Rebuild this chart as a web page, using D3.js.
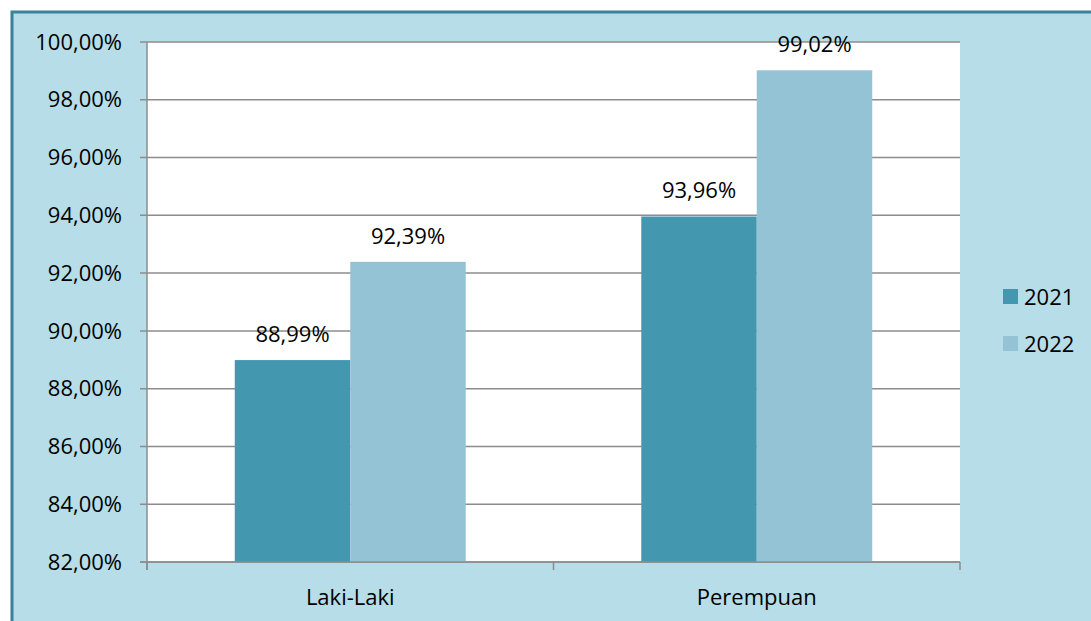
<!DOCTYPE html>
<html>
<head>
<meta charset="utf-8">
<script src="https://cdn.jsdelivr.net/npm/d3@7"></script>
<style>
  body { margin: 0; background: #fff; }
  svg text { font-family: "Open Sans", "Noto Sans", sans-serif; fill: #000; }
</style>
</head>
<body>
<svg id="chart" width="1091" height="621"></svg>
<script>
const categories = ['Laki-Laki', 'Perempuan'];
const years = ['2021', '2022'];
const values2021 = [88.99, 93.96];
const values2022 = [92.39, 99.02];
const yTicks = [82, 84, 86, 88, 90, 92, 94, 96, 98, 100];
const colors = ['#4398b0', '#93c3d4'];

const svg = d3.select('#chart');
const fmt = v => v.toFixed(2).replace('.', ',') + '%';
const fs = 22;

// background panel with border on top/left
svg.append('rect')
    .attr('x', 12).attr('y', 12)
    .attr('width', 1091).attr('height', 621)
    .attr('fill', '#b7dde8')
    .attr('stroke', '#3b8297')
    .attr('stroke-width', 3);

const plotLeft = 147, plotRight = 960, plotTop = 42, plotBottom = 562;

var x0 = d3.scaleBand().domain(categories).range([plotLeft, plotRight]);
var x1 = d3.scaleBand().domain(years).range([0, x0.bandwidth()]).paddingOuter(0.76);
var y = d3.scaleLinear().domain([82, 100]).range([plotBottom, plotTop]);

svg.append('rect')
    .attr('x', plotLeft).attr('y', plotTop)
    .attr('width', plotRight - plotLeft).attr('height', plotBottom - plotTop)
    .attr('fill', '#fff');

// gridlines
svg.append('g').selectAll('line')
    .data(yTicks)
    .enter().append('line')
    .attr('x1', plotLeft - 7).attr('x2', plotRight)
    .attr('y1', d => y(d)).attr('y2', d => y(d))
    .attr('stroke', '#8c8c8c').attr('stroke-width', 1.5);

// y axis line
svg.append('line')
    .attr('x1', plotLeft).attr('x2', plotLeft)
    .attr('y1', plotTop).attr('y2', plotBottom + 8)
    .attr('stroke', '#8c8c8c').attr('stroke-width', 1.5);

// x ticks
svg.append('g').selectAll('line')
    .data([plotLeft, x0(categories[1]), plotRight])
    .enter().append('line')
    .attr('x1', d => d).attr('x2', d => d)
    .attr('y1', plotBottom).attr('y2', plotBottom + 8)
    .attr('stroke', '#8c8c8c').attr('stroke-width', 1.5);

// y labels
svg.append('g').selectAll('text')
    .data(yTicks)
    .enter().append('text')
    .attr('x', 122).attr('y', d => y(d))
    .attr('dy', '0.35em')
    .attr('text-anchor', 'end')
    .attr('font-size', fs)
    .text(d => d.toFixed(2).replace('.', ',') + '%');

const series = [values2021, values2022];
categories.forEach((c, i) => {
    years.forEach((yr, j) => {
        var v = series[j][i];
        var bx = x0(c) + x1(yr);
        svg.append('rect')
            .attr('x', bx).attr('y', y(v))
            .attr('width', x1.bandwidth()).attr('height', plotBottom - y(v))
            .attr('fill', colors[j]);
        svg.append('text')
            .attr('x', bx + x1.bandwidth() / 2)
            .attr('y', y(v) - 18)
            .attr('text-anchor', 'middle')
            .attr('font-size', fs)
            .text(fmt(v));
    });
    svg.append('text')
        .attr('x', x0(c) + x0.bandwidth() / 2)
        .attr('y', 597)
        .attr('dy', '0.35em')
        .attr('text-anchor', 'middle')
        .attr('font-size', fs)
        .text(c);
});

// bottom axis line redrawn over bars
svg.append('line')
    .attr('x1', plotLeft - 7).attr('x2', plotRight)
    .attr('y1', plotBottom).attr('y2', plotBottom)
    .attr('stroke', '#8c8c8c').attr('stroke-width', 1.5);

// legend
var legend = svg.append('g');
years.forEach((yr, j) => {
    legend.append('rect')
        .attr('x', 1003).attr('y', 289 + j * 47)
        .attr('width', 15).attr('height', 15)
        .attr('fill', colors[j]);
    legend.append('text')
        .attr('x', 1024).attr('y', 297 + j * 47)
        .attr('dy', '0.35em')
        .attr('font-size', fs)
        .text(yr);
});
</script>
</body>
</html>
